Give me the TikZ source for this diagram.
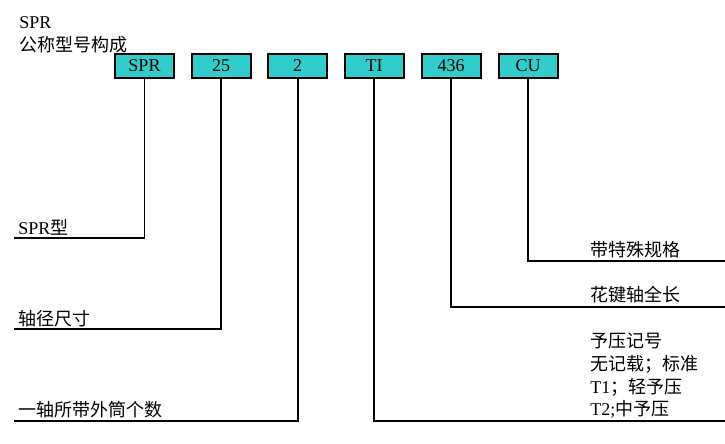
\documentclass[tikz,border=0pt]{standalone}
\usepackage{fontspec}
\setmainfont{Liberation Serif}
\newfontfamily\cjk{Noto Sans CJK SC}
\definecolor{boxcyan}{HTML}{33CCCC}
\tikzset{
  codebox/.style={draw=black, line width=1.5pt, fill=boxcyan, minimum width=44.25pt,
    minimum height=18pt, inner sep=0pt, font=\fontsize{13.5}{16}\selectfont},
  lbl/.style={anchor=base west, inner sep=0pt, font=\fontsize{13.5}{16}\selectfont},
  thinline/.style={line width=0.8pt},
  thickline/.style={line width=1.5pt}
}
\begin{document}
\begin{tikzpicture}[x=0.75pt,y=-0.75pt]
    \useasboundingbox (0,0) rectangle (725,443);
    % title
    \node [lbl] (title) at (19,28) {SPR};
    \node [lbl] (subtitle) at (19,51) {\cjk 公称型号构成};
    % code boxes
    \node [codebox] (spr) at (144.5,66) {SPR};
    \node [codebox] (size) at (221,66) {25};
    \node [codebox] (num) at (297.5,66) {2};
    \node [codebox] (pre) at (374,66) {TI};
    \node [codebox] (len) at (451,66) {436};
    \node [codebox] (spec) at (528,66) {CU};
    % end points
    \coordinate (sprend) at (14,238);
    \coordinate (sizeend) at (14,329);
    \coordinate (numend) at (14,421);
    \coordinate (preend) at (725,421);
    \coordinate (lenend) at (725,307);
    \coordinate (specend) at (725,261);
    % connectors
    \draw [thinline] (spr.south) |- (sprend);
    \draw [thickline] (size.south) |- (sizeend);
    \draw [thickline] (num.south) |- (numend);
    \draw [thinline] (pre.south) |- (preend);
    \draw [thickline] (len.south) |- (lenend);
    \draw [thickline] (spec.south) |- (specend);
    % labels
    \node [lbl] (sprtxt) at (18,234) {SPR{\cjk 型}};
    \node [lbl] (sizetxt) at (18,325) {\cjk 轴径尺寸};
    \node [lbl] (numtxt) at (18,416) {\cjk 一轴所带外筒个数};
    \node [lbl] (spectxt) at (590,256) {\cjk 带特殊规格};
    \node [lbl] (lentxt) at (590,301) {\cjk 花键轴全长};
    \node [lbl] (pretxt) at (590,347) {\cjk 予压记号};
    \node [lbl] (pretxta) at (590,370) {\cjk 无记载；标准};
    \node [lbl] (pretxtb) at (590,393) {T1{\cjk ；轻予压}};
    \node [lbl] (pretxtc) at (590,415) {T2;{\cjk 中予压}};
\end{tikzpicture}
\end{document}
